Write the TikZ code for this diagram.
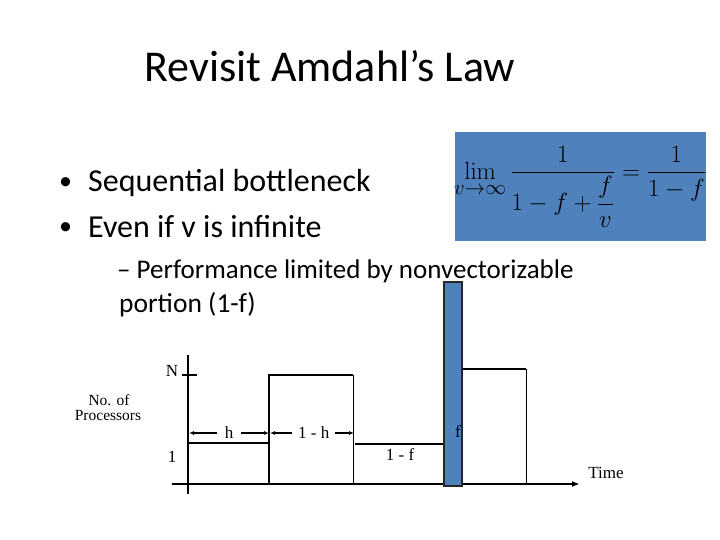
\documentclass[tikz,border=0pt]{standalone}
\usepackage{amsmath}
\usepackage[no-math]{fontspec}
\setmainfont{Carlito}
\newfontfamily\chartfont{Liberation Serif}
\usetikzlibrary{arrows.meta}
\definecolor{slideblue}{HTML}{4F81BD}

\begin{document}
\begin{tikzpicture}[
    x=1pt, y=-1pt,
    axis/.style={line width=1.8pt},
    stepline/.style={line width=1.8pt},
    thinline/.style={line width=0.9pt},
    dimline/.style={line width=1.4pt, {Latex[length=5pt,width=4pt]}-{Latex[length=5pt,width=4pt]}},
    lbl/.style={font=\chartfont\fontsize{17}{14}\selectfont, inner sep=1pt},
    bullet/.style={anchor=base west, inner sep=0pt, font=\fontsize{32}{38}\selectfont},
  ]
    \useasboundingbox (0,0) rectangle (720,540);
    % title and bullets
    \node[anchor=base, inner sep=0pt, font=\fontsize{44}{50}\selectfont] (title) at (330,82) {Revisit Amdahl’s Law};
    \node[bullet, font=\fontsize{26}{30}\selectfont] (b1dot) at (59,190) {•};
    \node[bullet] (b1) at (88,192) {Sequential bottleneck};
    \node[bullet, font=\fontsize{26}{30}\selectfont] (b2dot) at (59,235) {•};
    \node[bullet] (b2) at (88,237) {Even if v is infinite};
    \node[bullet, font=\fontsize{27}{30}\selectfont] (sub1) at (117,278) {– Performance limited by nonvectorizable};
    \node[bullet, font=\fontsize{27.5}{30}\selectfont] (sub2) at (119,312) {portion (1-f)};
    % formula box
    \fill[slideblue] (455,132) rectangle (706,241);
    \node[font=\fontsize{28}{30}\selectfont] (law) at (580,187)
      {$\displaystyle\lim_{v\to\infty}\frac{1}{1-f+\dfrac{f}{v}}=\frac{1}{1-f}$};
    % axes
    \coordinate (ybot) at (188,494);
    \coordinate (ytop) at (188,355);
    \coordinate (xleft) at (172,484);
    \coordinate (xend) at (580,484);
    \draw[axis] (ybot) -- (ytop);
    \draw[axis, -{Latex[length=8pt,width=6pt]}] (xleft) -- (xend);
    \draw[axis] (182,375) -- (197,375);
    % execution profile
    \draw[stepline] (188,443) -- (269,443);
    \draw[stepline] (269,484) -- (269,375) -- (353,375);
    \draw[thinline] (353,375) -- (353,484);
    \draw[stepline] (355,444) -- (444,444);
    \draw[stepline] (462,369) -- (526,369);
    \draw[thinline] (526,369) -- (526,484);
    \draw[line width=1.6pt, draw=black!85, fill=slideblue] (444,282) rectangle (462,486);
    % dimension lines
    \coordinate (hL) at (189,433);
    \coordinate (hR) at (269,433);
    \coordinate (ohL) at (270,433);
    \coordinate (ohR) at (354,433);
    \draw[dimline] (hL) -- (hR) node[lbl, midway, fill=white, inner xsep=8pt] (hlbl) {h};
    \draw[dimline] (ohL) -- (ohR) node[lbl, pos=0.52, fill=white, inner xsep=6pt] (ohlbl) {1 - h};
    % labels
    \node[lbl] (Nlbl) at (172,371) {N};
    \node[lbl] (onelbl) at (172,457) {1};
    \node[lbl, font=\chartfont\fontsize{15.5}{14}\selectfont, anchor=base, inner sep=0pt] (proc1) at (109,405) {No. of};
    \node[lbl, font=\chartfont\fontsize{15.5}{14}\selectfont, anchor=base, inner sep=0pt] (proc2) at (108,420) {Processors};
    \node[lbl] (flbl) at (458,432) {f};
    \node[lbl] (offlbl) at (400,455) {1 - f};
    \node[lbl] (timelbl) at (606,473) {Time};
\end{tikzpicture}
\end{document}
